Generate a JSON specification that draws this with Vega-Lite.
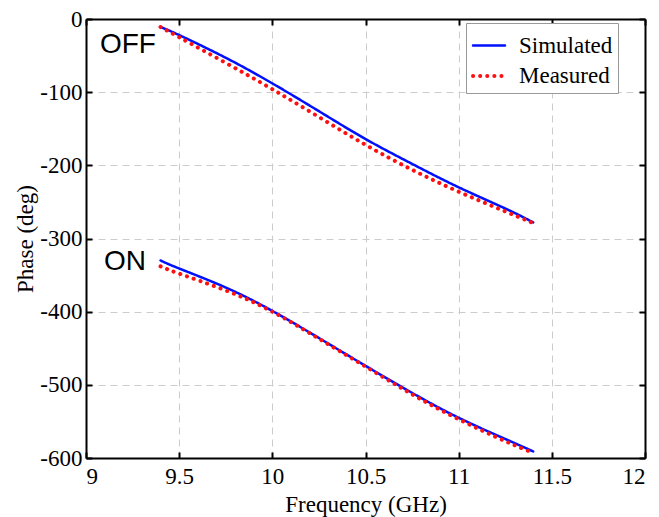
{
  "$schema": "https://vega.github.io/schema/vega-lite/v6.json",
  "width": 559,
  "height": 439,
  "autosize": {"type": "none"},
  "padding": {"left": 86, "top": 19, "right": 14, "bottom": 59},
  "background": "white",
  "config": {
    "view": {"stroke": null},
    "font": "Liberation Serif",
    "axis": {
      "domainColor": "black",
      "domainWidth": 2,
      "tickColor": "black",
      "tickWidth": 2,
      "tickSize": -6,
      "labelFont": "Liberation Serif",
      "labelFontSize": 23,
      "labelColor": "black",
      "labelExpr": "datum.value + ''",
      "titleFont": "Liberation Serif",
      "titleFontSize": 23,
      "titleFontWeight": "normal",
      "titleColor": "black",
      "gridColor": "#cccccc",
      "gridDash": [7, 5],
      "gridWidth": 1
    }
  },
  "datasets": {
    "curves": [
      {"f": 9.4, "phase": -11, "series": "Simulated", "state": "OFF"},
      {"f": 9.5, "phase": -22, "series": "Simulated", "state": "OFF"},
      {"f": 9.75, "phase": -53, "series": "Simulated", "state": "OFF"},
      {"f": 10.0, "phase": -88, "series": "Simulated", "state": "OFF"},
      {"f": 10.25, "phase": -126, "series": "Simulated", "state": "OFF"},
      {"f": 10.5, "phase": -164, "series": "Simulated", "state": "OFF"},
      {"f": 10.75, "phase": -198, "series": "Simulated", "state": "OFF"},
      {"f": 11.0, "phase": -230, "series": "Simulated", "state": "OFF"},
      {"f": 11.25, "phase": -259, "series": "Simulated", "state": "OFF"},
      {"f": 11.4, "phase": -278, "series": "Simulated", "state": "OFF"},
      {"f": 9.4, "phase": -11, "series": "Measured", "state": "OFF"},
      {"f": 9.5, "phase": -25, "series": "Measured", "state": "OFF"},
      {"f": 9.75, "phase": -60, "series": "Measured", "state": "OFF"},
      {"f": 10.0, "phase": -96, "series": "Measured", "state": "OFF"},
      {"f": 10.25, "phase": -134, "series": "Measured", "state": "OFF"},
      {"f": 10.5, "phase": -172, "series": "Measured", "state": "OFF"},
      {"f": 10.75, "phase": -206, "series": "Measured", "state": "OFF"},
      {"f": 11.0, "phase": -236, "series": "Measured", "state": "OFF"},
      {"f": 11.25, "phase": -263, "series": "Measured", "state": "OFF"},
      {"f": 11.4, "phase": -279, "series": "Measured", "state": "OFF"},
      {"f": 9.4, "phase": -330, "series": "Simulated", "state": "ON"},
      {"f": 9.5, "phase": -341, "series": "Simulated", "state": "ON"},
      {"f": 9.75, "phase": -367, "series": "Simulated", "state": "ON"},
      {"f": 10.0, "phase": -399, "series": "Simulated", "state": "ON"},
      {"f": 10.25, "phase": -436, "series": "Simulated", "state": "ON"},
      {"f": 10.5, "phase": -474, "series": "Simulated", "state": "ON"},
      {"f": 10.75, "phase": -511, "series": "Simulated", "state": "ON"},
      {"f": 11.0, "phase": -545, "series": "Simulated", "state": "ON"},
      {"f": 11.25, "phase": -574, "series": "Simulated", "state": "ON"},
      {"f": 11.4, "phase": -591, "series": "Simulated", "state": "ON"},
      {"f": 9.4, "phase": -338, "series": "Measured", "state": "ON"},
      {"f": 9.5, "phase": -348, "series": "Measured", "state": "ON"},
      {"f": 9.75, "phase": -371, "series": "Measured", "state": "ON"},
      {"f": 10.0, "phase": -400, "series": "Measured", "state": "ON"},
      {"f": 10.25, "phase": -437, "series": "Measured", "state": "ON"},
      {"f": 10.5, "phase": -475, "series": "Measured", "state": "ON"},
      {"f": 10.75, "phase": -513, "series": "Measured", "state": "ON"},
      {"f": 11.0, "phase": -547, "series": "Measured", "state": "ON"},
      {"f": 11.25, "phase": -577, "series": "Measured", "state": "ON"},
      {"f": 11.4, "phase": -593, "series": "Measured", "state": "ON"}
    ],
    "labels": [
      {"f": 9.075, "phase": -36, "text": "OFF"},
      {"f": 9.097, "phase": -332, "text": "ON"}
    ]
  },
  "resolve": {"axis": {"x": "independent", "y": "independent"}},
  "layer": [
    {
      "data": {"name": "curves"},
      "mark": {"type": "line", "strokeCap": "round", "interpolate": "natural"},
      "encoding": {
        "x": {"field": "f", "type": "quantitative", "scale": {"domain": [9, 12], "nice": false},
          "axis": {"title": "Frequency (GHz)", "values": [9, 9.5, 10, 10.5, 11, 11.5, 12], "labelPadding": 13, "titlePadding": 5, "grid": true}},
        "y": {"field": "phase", "type": "quantitative", "scale": {"domain": [-600, 0], "nice": false},
          "axis": {"title": "Phase (deg)", "values": [-600, -500, -400, -300, -200, -100, 0], "labelPadding": 10, "titlePadding": 2, "grid": true}},
        "color": {"field": "series", "type": "nominal",
          "scale": {"domain": ["Simulated", "Measured"], "range": ["#0010ff", "#ff1010"]},
          "legend": {"title": null, "orient": "none", "legendX": 380, "legendY": 4,
            "symbolType": "stroke", "symbolSize": 1024, "symbolStrokeWidth": 3,
            "labelFont": "Liberation Serif", "labelFontSize": 23, "labelColor": "black",
            "fillColor": "white", "strokeColor": "#999999", "padding": 5, "rowPadding": -6, "labelOffset": 12,
            "encode": {"symbols": {"update": {"strokeCap": {"value": "round"}}}}}},
        "strokeDash": {"field": "series", "type": "nominal",
          "scale": {"domain": ["Simulated", "Measured"], "range": [[1, 0], [0.1, 7]]}, "legend": null},
        "strokeWidth": {"field": "series", "type": "nominal",
          "scale": {"domain": ["Simulated", "Measured"], "range": [2.5, 4]}, "legend": null},
        "detail": {"field": "state"},
        "order": {"field": "f"}
      }
    },
    {
      "data": {"name": "labels"},
      "mark": {"type": "text", "font": "Liberation Sans", "fontSize": 28, "align": "left", "baseline": "middle", "color": "black"},
      "encoding": {
        "x": {"field": "f", "type": "quantitative", "scale": {"domain": [9, 12], "nice": false},
          "axis": {"orient": "top", "labels": false, "title": null, "values": [9, 9.5, 10, 10.5, 11, 11.5, 12], "grid": false}},
        "y": {"field": "phase", "type": "quantitative", "scale": {"domain": [-600, 0], "nice": false},
          "axis": {"orient": "right", "labels": false, "title": null, "values": [-600, -500, -400, -300, -200, -100, 0], "grid": false}},
        "text": {"field": "text"}
      }
    }
  ]
}
